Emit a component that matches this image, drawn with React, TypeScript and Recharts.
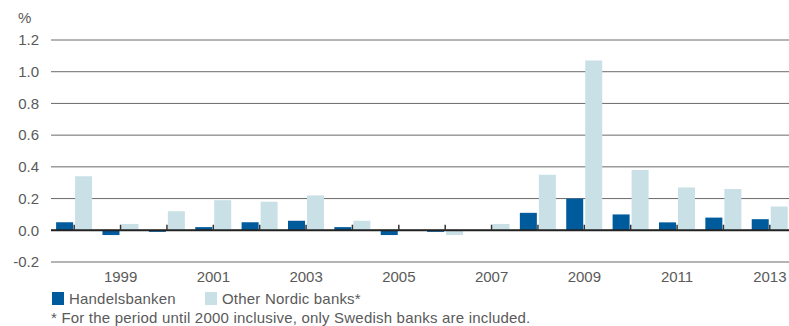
import React from "react";
import { BarChart, Bar, XAxis, YAxis, CartesianGrid, ReferenceLine } from "recharts";

// loan losses as % of lending, 1998-2013
const years = ["1998", "1999", "2000", "2001", "2002", "2003", "2004", "2005", "2006", "2007", "2008", "2009", "2010", "2011", "2012", "2013"];
const handelsbanken = [0.05, -0.03, -0.01, 0.02, 0.05, 0.06, 0.02, -0.03, -0.01, 0.0, 0.11, 0.2, 0.1, 0.05, 0.08, 0.07];
const otherNordic = [0.34, 0.04, 0.12, 0.19, 0.18, 0.22, 0.06, 0.0, -0.03, 0.04, 0.35, 1.07, 0.38, 0.27, 0.26, 0.15];
const yTicks = [-0.2, 0, 0.2, 0.4, 0.6, 0.8, 1.0, 1.2];
const xTickLabels = ["1999", "2001", "2003", "2005", "2007", "2009", "2011", "2013"];

const data = years.map((year, i) => ({
  year,
  hb: handelsbanken[i],
  nordic: otherNordic[i],
}));

const BLUE = "#005b9d";
const LIGHT = "#c9e0e6";
const TEXT = "#5a5a5a";
const FONT = "'Liberation Sans', Arial, sans-serif";

const textStyle: React.CSSProperties = {
  position: "absolute",
  fontSize: 15,
  lineHeight: "15px",
  letterSpacing: 0.2,
  whiteSpace: "nowrap",
};

const App: React.FC = () => {
  return (
    <div
      style={{
        position: "absolute",
        left: 0,
        top: 0,
        width: 789,
        height: 326,
        overflow: "hidden",
        background: "#fff",
        fontFamily: FONT,
        color: TEXT,
      }}
    >
      <div style={{ ...textStyle, left: 18, top: 10 }}>%</div>
      <BarChart
        width={800}
        height={326}
        data={data}
        margin={{ top: 40, right: 7, bottom: 34, left: 0 }}
        barCategoryGap="11%"
        barGap={2}
      >
        <CartesianGrid vertical={false} stroke="#6a6a6a" />
        <XAxis
          dataKey="year"
          axisLine={false}
          tickLine={false}
          tickSize={0}
          tickMargin={9}
          height={30}
          interval={0}
          tickFormatter={(v: string) => (xTickLabels.includes(v) ? v : "")}
          tick={{ fill: TEXT, fontSize: 15, fontFamily: FONT }}
        />
        <YAxis
          domain={[-0.2, 1.2]}
          ticks={yTicks}
          axisLine={false}
          tickLine={false}
          tickSize={0}
          tickMargin={12}
          width={51}
          tickFormatter={(v: number) => v.toFixed(1)}
          tick={{ fill: TEXT, fontSize: 15, fontFamily: FONT }}
        />
        <Bar dataKey="hb" fill={BLUE} isAnimationActive={false} />
        <Bar dataKey="nordic" fill={LIGHT} isAnimationActive={false} />
        <ReferenceLine y={0} stroke="#222" strokeWidth={2} />
        {years.map((y) => (
          <ReferenceLine
            key={y}
            segment={[{ x: y, y: 0 }, { x: y, y: 0.035 }]}
            stroke="#333"
            strokeWidth={1.5}
          />
        ))}
      </BarChart>
      <div style={{ position: "absolute", left: 52, top: 292, width: 12, height: 13, background: BLUE }} />
      <div style={{ ...textStyle, left: 69, top: 291 }}>Handelsbanken</div>
      <div style={{ position: "absolute", left: 205, top: 292, width: 12, height: 13, background: LIGHT }} />
      <div style={{ ...textStyle, left: 222, top: 291 }}>Other Nordic banks*</div>
      <div style={{ ...textStyle, left: 51, top: 310 }}>
        * For the period until 2000 inclusive, only Swedish banks are included.
      </div>
    </div>
  );
};

export default App;
